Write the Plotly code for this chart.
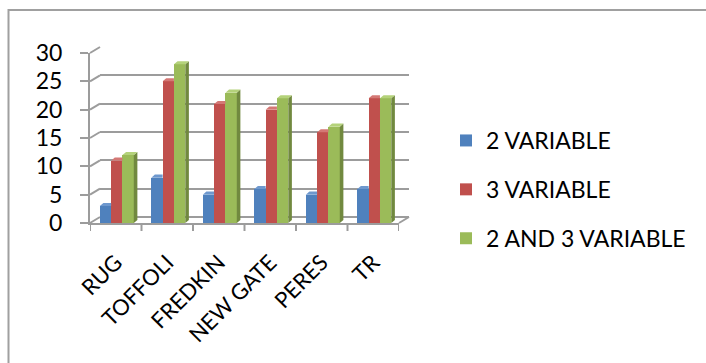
import plotly.graph_objects as go

categories = ["RUG", "TOFFOLI", "FREDKIN", "NEW GATE", "PERES", "TR"]
series_names = ["2 VARIABLE", "3 VARIABLE", "2 AND 3 VARIABLE"]
two_var = [3, 8, 5, 6, 5, 6]
three_var = [11, 25, 21, 20, 16, 22]
two_three_var = [12, 28, 23, 22, 17, 22]
y_ticks = [0, 5, 10, 15, 20, 25, 30]

W, H = 706, 363
def px(v):
    return v / W
def py(v):
    return 1 - v / H

front_colors = ["#4F81BD", "#C0504D", "#9BBB59"]
top_colors = ["#6E98CE", "#D47875", "#B4D27A"]
side_colors = ["#385D8A", "#8C3836", "#71893F"]
grid_col = "#9C9C9C"

# front plot geometry (pixels)
FX0, FX1 = 90, 399
FY0, FY1 = 223, 53
OFFX, OFFY = 10, 6
ppu = (FY0 - FY1) / 30.0

values = [two_var, three_var, two_three_var]
width = 0.22
offsets = [-0.31, -0.09, 0.13]
dx = 0.07
dy = 0.55

fig = go.Figure()

# back wall subplot (gridlines)
fig.add_trace(go.Scatter(x=[0], y=[0], xaxis="x", yaxis="y", mode="markers",
                         marker=dict(opacity=0), showlegend=False, hoverinfo="skip"))

for s in range(3):
    fig.add_trace(go.Bar(
        x=list(range(len(categories))), y=values[s], name=series_names[s],
        xaxis="x2", yaxis="y2", width=width, offset=offsets[s],
        marker=dict(color=front_colors[s], line=dict(width=0)),
        legendgroup=series_names[s],
    ))

shapes = []
# bar faces
for s in range(3):
    for i, v in enumerate(values[s]):
        x0 = i + offsets[s]
        x1 = x0 + width
        if s < 2:
            path = f"M{x0},{v} L{x1},{v} L{x1},{v+dy} L{x0+dx},{v+dy} Z"
        else:
            path = f"M{x0},{v} L{x1},{v} L{x1+dx},{v+dy} L{x0+dx},{v+dy} Z"
            side = f"M{x1},0 L{x1+dx},{dy} L{x1+dx},{v+dy} L{x1},{v} Z"
            shapes.append(dict(type="path", path=side, xref="x2", yref="y2",
                               fillcolor=side_colors[s], line=dict(width=0), layer="above"))
        shapes.append(dict(type="path", path=path, xref="x2", yref="y2",
                           fillcolor=top_colors[s], line=dict(width=0), layer="above"))

# wall diagonals
for t in y_ticks:
    yf = FY0 - t * ppu
    yb = yf - OFFY
    shapes.append(dict(type="line", xref="paper", yref="paper",
                       x0=px(FX0), y0=py(yf), x1=px(FX0 + OFFX), y1=py(yb),
                       line=dict(color=grid_col, width=2), layer="below"))
# floor right diagonal
shapes.append(dict(type="line", xref="paper", yref="paper",
                   x0=px(FX1), y0=py(FY0), x1=px(FX1 + OFFX), y1=py(FY0 - OFFY),
                   line=dict(color=grid_col, width=2), layer="below"))
# category boundary ticks
for b in range(len(categories) + 1):
    shapes.append(dict(type="line", xref="x2", yref="paper",
                       x0=b - 0.5, x1=b - 0.5, y0=py(FY0), y1=py(FY0 + 8),
                       line=dict(color=grid_col, width=2)))
# outer border
shapes.append(dict(type="rect", xref="paper", yref="paper",
                   x0=px(8.5), y0=-0.05, x1=1.05, y1=py(10),
                   line=dict(color="#A0A0A0", width=2), fillcolor="rgba(0,0,0,0)"))

font = "Lato, 'Open Sans', sans-serif"

fig.update_layout(
    width=W, height=H,
    margin=dict(l=0, r=0, t=0, b=0, autoexpand=False),
    paper_bgcolor="white", plot_bgcolor="rgba(0,0,0,0)",
    font=dict(family=font, size=20, color="black"),
    shapes=shapes,
    showlegend=True,
    legend=dict(x=px(446), y=py(119), xanchor="left", yanchor="top",
                tracegroupgap=16, font=dict(size=23), bgcolor="rgba(0,0,0,0)"),
    xaxis=dict(domain=[px(FX0 + OFFX), px(FX1 + OFFX)], range=[-0.5, 5.5],
               anchor="y", showgrid=False, zeroline=False, showticklabels=False,
               showline=False, fixedrange=True, automargin=False),
    yaxis=dict(domain=[py(FY0 - OFFY), py(FY1 - OFFY)], range=[0, 30],
               anchor="x", tickvals=y_ticks, showgrid=True, gridcolor=grid_col,
               gridwidth=2, zeroline=True, zerolinecolor=grid_col, zerolinewidth=2,
               showticklabels=False, showline=False, automargin=False),
    xaxis2=dict(domain=[px(FX0), px(FX1)], range=[-0.5, 5.5], anchor="y2",
                tickvals=list(range(len(categories))), ticktext=categories,
                tickangle=-45, ticks="", showgrid=False, zeroline=False,
                showline=True, linecolor=grid_col, linewidth=2,
                tickfont=dict(size=22), ticklabelstandoff=16, automargin=False),
    yaxis2=dict(domain=[py(FY0), py(FY1)], range=[0, 30], anchor="x2",
                tickvals=y_ticks, ticks="outside", ticklen=8, tickwidth=2,
                tickcolor=grid_col, showgrid=False, zeroline=False,
                showline=True, linecolor=grid_col, linewidth=2,
                tickfont=dict(size=23), ticklabelstandoff=13, automargin=False),
    bargap=0,
)

fig.write_html("out.html")
